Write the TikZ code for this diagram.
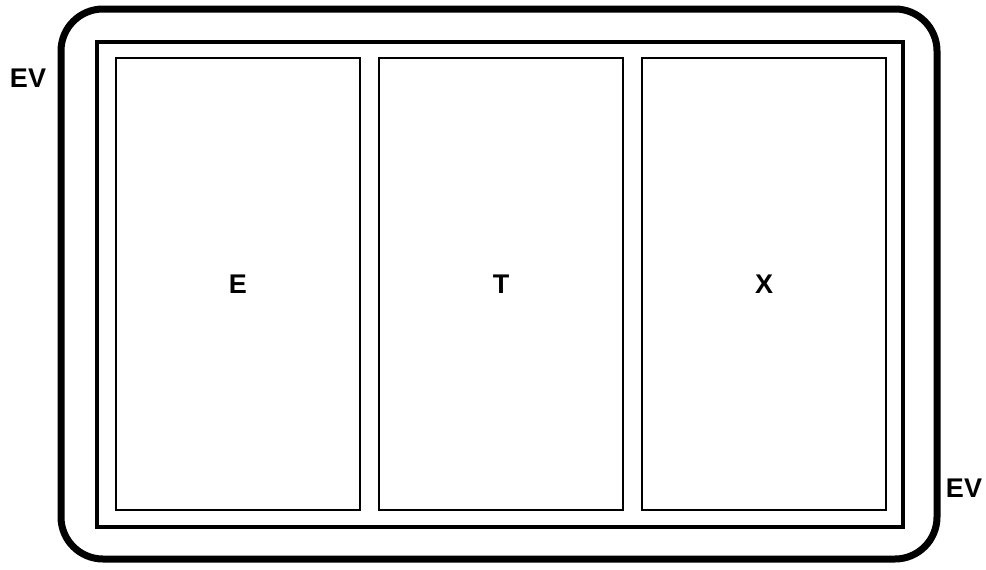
\documentclass[tikz,border=0pt]{standalone}
\usepackage{fontspec}
\setmainfont{Liberation Sans}
\usetikzlibrary{positioning}

\begin{document}
\begin{tikzpicture}[x=1pt,y=-1pt,
    panel/.style={draw,line width=2.5pt,minimum width=244pt,minimum height=452pt,outer sep=0pt,
      font=\fontsize{27}{31}\selectfont\bfseries},
    lbl/.style={font=\fontsize{27}{31}\selectfont\bfseries}]
\useasboundingbox (0,0) rectangle (986,570);
% outer casing
\draw[line width=7pt,rounded corners=42pt] (61,9) rectangle (937,559);
\draw[line width=4pt] (97,42) rectangle (903,527);
% the three panels
\node[panel] (e) at (238,284) {E};
\node[panel,right=19pt of e] (t) {T};
\node[panel,right=19pt of t] (x) {X};
\node[lbl] (evleft) at (28,78) {EV};
\node[lbl] (evright) at (964,488) {EV};
\end{tikzpicture}
\end{document}
